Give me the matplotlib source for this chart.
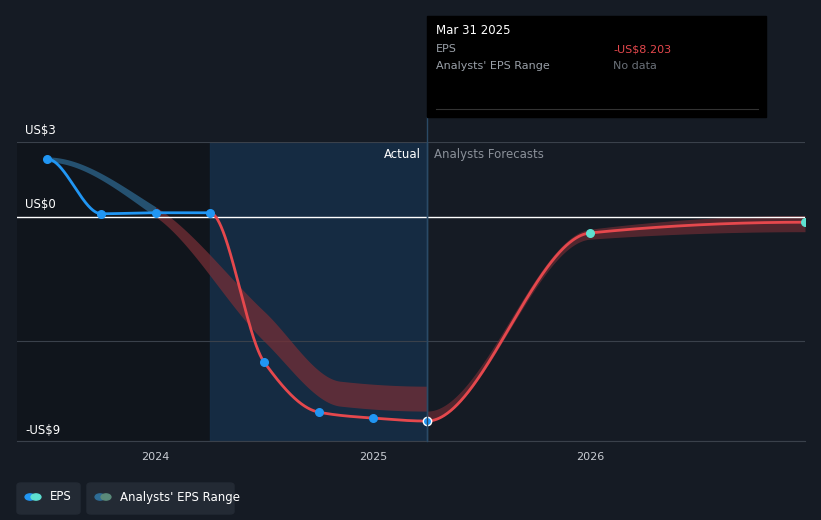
import numpy as np
import matplotlib.pyplot as plt
from matplotlib.patches import FancyBboxPatch

# data (EPS in US$)
past_x = [2023.5, 2023.75, 2024.0, 2024.25]
past_eps = [2.32, 0.12, 0.16, 0.16]
neg_x = [2024.25, 2024.5, 2024.75, 2025.0, 2025.25]
neg_eps = [0.16, -5.84, -7.84, -8.08, -8.20]
fc_x = [2025.25, 2026.0, 2026.99]
fc_eps = [-8.20, -0.65, -0.22]
range_x = [2023.5, 2024.0, 2024.5, 2024.85, 2025.25]
range_lo = [2.2, 0.0, -5.0, -7.6, -7.8]
range_hi = [2.4, 0.4, -3.8, -6.6, -6.8]
fcr_x = [2025.25, 2026.0, 2026.99]
fcr_lo = [-8.2, -0.9, -0.6]
fcr_hi = [-7.8, -0.5, 0.05]


def pchip(x, y, n=200):
    x = np.asarray(x, float); y = np.asarray(y, float)
    h = np.diff(x); d = np.diff(y) / h
    m = np.zeros_like(y)
    for i in range(1, len(y) - 1):
        if d[i - 1] * d[i] > 0:
            w1 = 2 * h[i] + h[i - 1]; w2 = h[i] + 2 * h[i - 1]
            m[i] = (w1 + w2) / (w1 / d[i - 1] + w2 / d[i])
    xs, ys = [], []
    for i in range(len(h)):
        t = np.linspace(0, 1, n)
        h00 = 2*t**3 - 3*t**2 + 1; h10 = t**3 - 2*t**2 + t
        h01 = -2*t**3 + 3*t**2; h11 = t**3 - t**2
        xs.append(x[i] + t * h[i])
        ys.append(h00*y[i] + h10*h[i]*m[i] + h01*y[i+1] + h11*h[i]*m[i+1])
    return np.concatenate(xs), np.concatenate(ys)


bg = '#151b24'
fig = plt.figure(figsize=(8.21, 5.2), dpi=100, facecolor=bg)
ax = fig.add_axes([17/821, 1-441/520, (805-17)/821, (441-142)/520])
ax.set_facecolor(bg)
x0, x1 = 2023.5 - 30/217, 2026.99
ax.set_xlim(x0, x1)
ax.set_ylim(-9, 3)

ax.axvspan(x0, 2024.25, color='#10151c', zorder=0)
ax.axvspan(2024.25, 2025.25, color='#16304a', alpha=0.8, zorder=0)
for v in [3, -5, -9]:
    ax.axhline(v, color='#3a414b', lw=0.8, zorder=1)
ax.axhline(0, color='white', lw=1, zorder=2)

rx, rl = pchip(range_x, range_lo); _, rh = pchip(range_x, range_hi)
ax.fill_between(rx[rx <= 2024.0], rl[rx <= 2024.0], rh[rx <= 2024.0], color='#2e6c95', alpha=0.7, lw=0)
ax.fill_between(rx[rx >= 2024.0], rl[rx >= 2024.0], rh[rx >= 2024.0], color='#7a2f36', alpha=0.7, lw=0)
fx, fl = pchip(fcr_x, fcr_lo); _, fh = pchip(fcr_x, fcr_hi)
ax.fill_between(fx, fl, fh, color='#7a2f36', alpha=0.6, lw=0)

px, py = pchip(past_x, past_eps)
ax.plot(px, py, color='#2196f3', lw=2, zorder=4)
nx, ny = pchip(neg_x, neg_eps)
ax.plot(nx, ny, color='#e5484d', lw=2, zorder=4)
cx, cy = pchip(fc_x, fc_eps)
ax.plot(cx, cy, color='#e5484d', lw=2, zorder=4)
ax.scatter(past_x, past_eps, s=30, color='#2196f3', zorder=5)
ax.scatter(neg_x[1:-1], neg_eps[1:-1], s=30, color='#2196f3', zorder=5)
ax.scatter([neg_x[-1]], [neg_eps[-1]], s=36, color='#2196f3', edgecolors='white', zorder=6)
ax.scatter(fc_x[1:], fc_eps[1:], s=30, color='#5ee0d0', zorder=5)

ax.axvline(2025.25, color='#2a4a66', lw=1, zorder=3)
ax.text(2025.22, 2.5, 'Actual', color='white', ha='right', va='center', fontsize=8.5)
ax.text(2025.28, 2.5, 'Analysts Forecasts', color='#8a9099', ha='left', va='center', fontsize=8.5)

for s in ax.spines.values():
    s.set_visible(False)
ax.set_yticks([])
ax.set_xticks([2024, 2025, 2026])
ax.set_xticklabels(['2024', '2025', '2026'], color='#c8ccd2', fontsize=8)
ax.tick_params(axis='x', length=0, pad=8)
ax.spines['bottom'].set_visible(True)
ax.spines['bottom'].set_color('#3a414b')

fig.text(25/821, 1-130/520, 'US$3', color='white', fontsize=8.5, va='center')
fig.text(25/821, 1-205/520, 'US$0', color='white', fontsize=8.5, va='center')
fig.text(25/821, 1-430/520, '-US$9', color='white', fontsize=8.5, va='center')

# tooltip
fig.patches.append(plt.Rectangle((427/821, 1-117/520), 339/821, 101/520,
                                 transform=fig.transFigure, color='black', zorder=10))
fig.add_artist(plt.Line2D([427/821, 427/821], [1-441/520, 1-117/520], color='#2a4a66', lw=1))
fig.text(436/821, 1-31/520, 'Mar 31 2025', color='white', fontsize=8.5, va='center', zorder=11)
fig.text(436/821, 1-49/520, 'EPS', color='#9aa0a8', fontsize=8, va='center', zorder=11)
fig.text(613/821, 1-49/520, '-US$8.203', color='#e5484d', fontsize=8, va='center', zorder=11)
fig.text(436/821, 1-66/520, "Analysts' EPS Range", color='#9aa0a8', fontsize=8, va='center', zorder=11)
fig.text(613/821, 1-66/520, 'No data', color='#6a7078', fontsize=8, va='center', zorder=11)
fig.add_artist(plt.Line2D([436/821, 758/821], [1-109/520, 1-109/520], color='#333', lw=0.8, zorder=11))

# legend
for bx, bw, label, c1, c2 in [(17, 63, 'EPS', '#2196f3', '#5ee0d0'),
                              (87, 147, "Analysts' EPS Range", '#2e6c95', '#5a8a7a')]:
    fig.patches.append(FancyBboxPatch((bx/821, 1-514/520), bw/821, 31/520,
                                      boxstyle='round,pad=0,rounding_size=0.005',
                                      transform=fig.transFigure, color='#232a34'))
    fig.patches.append(plt.Circle(((bx+13)/821, 1-497/520), 0.006, transform=fig.transFigure, color=c1))
    fig.patches.append(plt.Circle(((bx+19)/821, 1-497/520), 0.006, transform=fig.transFigure, color=c2))
    fig.text((bx+33)/821, 1-497/520, label, color='white', fontsize=8.5, va='center')

fig.savefig('out.png', dpi=100, facecolor=bg)
